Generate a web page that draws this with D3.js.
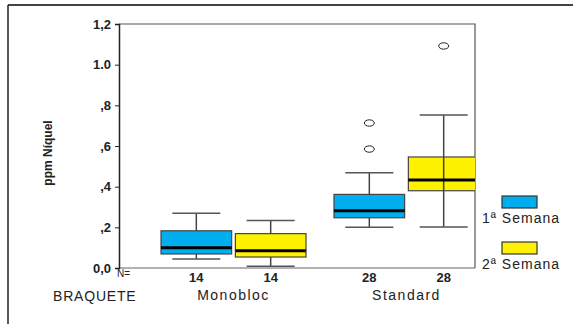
<!DOCTYPE html>
<html>
<head>
<meta charset="utf-8">
<script src="https://cdn.jsdelivr.net/npm/d3@7"></script>
<style>
  body { margin: 0; background: #fff; }
  svg { display: block; font-family: "Liberation Sans", Arial, sans-serif; }
</style>
</head>
<body>
<svg id="chart" width="573" height="324"></svg>
<script>
// braquete groups and the two weeks
var groups = ["Monobloc", "Standard"];
var series = ["1ª Semana", "2ª Semana"];
var colors = ["#00aeef", "#fff200"];
var counts = [[14, 14], [28, 28]];

// box stats per group: [lowWhisker, q1, median, q3, highWhisker]
var monoblocStats = [[0.044, 0.069, 0.100, 0.183, 0.269], [0.008, 0.054, 0.085, 0.169, 0.233]];
var standardStats = [[0.200, 0.247, 0.282, 0.362, 0.469], [0.202, 0.380, 0.433, 0.546, 0.753]];
var monoblocOutliers = [[], []];
var standardOutliers = [[0.713, 0.585], [1.092]];

var yTicks = [0, 0.2, 0.4, 0.6, 0.8, 1.0, 1.2];
var yTickLabels = ["0,0", ",2", ",4", ",6", ",8", "1.0", "1,2"];

var stats = [monoblocStats, standardStats];
var outliers = [monoblocOutliers, standardOutliers];

var svg = d3.select("#chart");
// note: "top" is window.top, so use other names
var pLeft = 119, pRight = 475, pTop = 24, pBottom = 268;

var y = d3.scaleLinear().domain([0, 1.2]).range([pBottom, pTop]);
var x0 = d3.scaleBand().domain(groups).range([148, 494]);
var x1 = d3.scaleBand().domain(series).range([13, 158]).paddingInner(0.05);

// outer frame (only top and left show)
svg.append("line").attr("x1", 8).attr("x2", 573).attr("y1", 5).attr("y2", 5)
  .attr("stroke", "#444").attr("stroke-width", 2);
svg.append("line").attr("x1", 8).attr("x2", 8).attr("y1", 5).attr("y2", 324)
  .attr("stroke", "#222").attr("stroke-width", 1.5);

// plot frame
svg.append("path")
  .attr("d", "M" + pLeft + "," + pTop + "H" + pRight + "V" + pBottom)
  .attr("fill", "none").attr("stroke", "#555").attr("stroke-width", 1.2);
svg.append("line").attr("x1", pLeft).attr("x2", pRight).attr("y1", pBottom).attr("y2", pBottom)
  .attr("stroke", "#666").attr("stroke-width", 1.2);

var yAxis = d3.axisLeft(y).tickValues(yTicks).tickSize(4).tickPadding(4)
  .tickFormat(function(d, i) { return yTickLabels[i]; });
var ya = svg.append("g").attr("transform", "translate(" + pLeft + ",0)").call(yAxis);
ya.select(".domain").attr("stroke", "#222").attr("stroke-width", 1.5);
ya.selectAll(".tick line").attr("stroke", "#222");
ya.selectAll("text").attr("font-size", 13).attr("font-weight", "bold").attr("fill", "#222")
  .attr("font-family", "Liberation Sans, Arial, sans-serif");

// boxes
var clip = svg.append("clipPath").attr("id", "plotclip");
clip.append("rect").attr("x", pLeft).attr("y", 0).attr("width", pRight - pLeft).attr("height", pBottom);

var plot = svg.append("g").attr("clip-path", "url(#plotclip)");
groups.forEach(function(g, gi) {
  series.forEach(function(s, si) {
    var st = stats[gi][si];
    var bx = x0(g) + x1(s), bw = x1.bandwidth(), cx = bx + bw / 2;
    var cap = bw * 0.34;
    var gg = plot.append("g");
    gg.append("line").attr("x1", cx).attr("x2", cx).attr("y1", y(st[0])).attr("y2", y(st[4]))
      .attr("stroke", "#444").attr("stroke-width", 1.5);
    [st[0], st[4]].forEach(function(v) {
      gg.append("line").attr("x1", cx - cap).attr("x2", cx + cap).attr("y1", y(v)).attr("y2", y(v))
        .attr("stroke", "#555").attr("stroke-width", 1.5);
    });
    gg.append("rect").attr("x", bx).attr("width", bw)
      .attr("y", y(st[3])).attr("height", y(st[1]) - y(st[3]))
      .attr("fill", colors[si]).attr("stroke", "#444").attr("stroke-width", 1.2);
    // the last box keeps its whisker line visible through it
    if (gi === 1 && si === 1) {
      gg.append("line").attr("x1", cx).attr("x2", cx).attr("y1", y(st[3])).attr("y2", y(st[1]))
        .attr("stroke", "#444").attr("stroke-width", 1.5);
    }
    gg.append("line").attr("x1", bx).attr("x2", bx + bw).attr("y1", y(st[2])).attr("y2", y(st[2]))
      .attr("stroke", "#000").attr("stroke-width", 3);
    outliers[gi][si].forEach(function(v) {
      gg.append("ellipse").attr("cx", cx).attr("cy", y(v)).attr("rx", 5).attr("ry", 3.2)
        .attr("fill", "none").attr("stroke", "#222").attr("stroke-width", 1);
    });
    svg.append("text").attr("x", cx).attr("y", 282).attr("text-anchor", "middle")
      .attr("font-size", 13).attr("font-weight", "bold").attr("fill", "#222")
      .text(counts[gi][si]);
  });
  svg.append("text").attr("x", x0(g) + 85.5).attr("y", 300).attr("text-anchor", "middle")
    .attr("font-size", 14).attr("letter-spacing", 1.5).attr("fill", "#222").text(g);
});

svg.append("text").attr("x", 117).attr("y", 277).attr("font-size", 10).attr("fill", "#222").text("N=");
svg.append("text").attr("x", 53).attr("y", 301).attr("font-size", 14).attr("letter-spacing", 0.8)
  .attr("fill", "#222").text("BRAQUETE");

svg.append("text").attr("transform", "translate(52,153) rotate(-90)").attr("text-anchor", "middle")
  .attr("font-size", 12).attr("font-weight", "bold").attr("fill", "#222").text("ppm Níquel");

// legend
series.forEach(function(s, i) {
  var ly = 196 + i * 46;
  svg.append("rect").attr("x", 502).attr("y", ly).attr("width", 35).attr("height", 12)
    .attr("fill", colors[i]).attr("stroke", "#333").attr("stroke-width", 1.2);
  svg.append("text").attr("x", 482).attr("y", ly + 27).attr("font-size", 14).attr("letter-spacing", 1)
    .attr("fill", "#222").text(s);
});
</script>
</body>
</html>
